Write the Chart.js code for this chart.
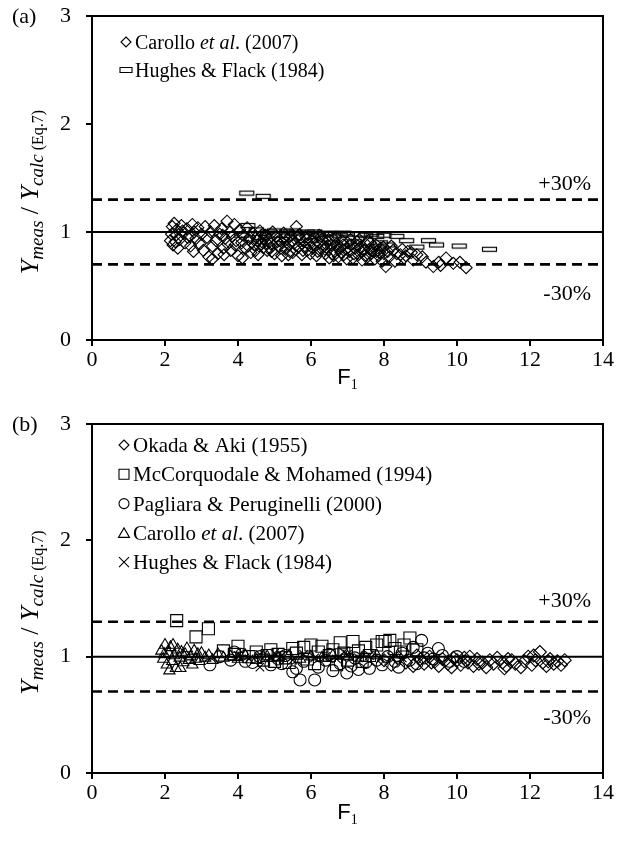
<!DOCTYPE html>
<html>
<head>
<meta charset="utf-8">
<script src="https://cdn.jsdelivr.net/npm/chart.js@4.4.0/dist/chart.umd.min.js"></script>
<style>
  html, body { margin: 0; padding: 0; background: #fff; }
  #wrap { position: relative; width: 635px; height: 843px; }
  canvas { position: absolute; left: 0; }
</style>
</head>
<body>
<div id="wrap">
  <canvas id="chartA" width="635" height="400" style="top:0"></canvas>
  <canvas id="chartB" width="635" height="443" style="top:400px"></canvas>
</div>
<script>
// axis ranges / reference levels
const xMin = 0, xMax = 14, xStep = 2;
const yMin = 0, yMax = 3, yStep = 1;
const refLevels = [1.3, 1.0, 0.7];
const refLabels = ['+30%', '', '-30%'];

// (a) Carollo et al. (2007) - diamonds, [F1, ratio]
const carolloA = [
  [2.15,0.92],[2.2,1.05],[2.22,0.88],[2.25,1.08],[2.3,0.97],[2.32,1.02],[2.35,0.85],[2.4,0.93],[2.45,1.06],[2.5,0.99],
  [2.55,0.9],[2.6,1.03],[2.62,0.95],[2.7,0.87],[2.75,1.07],[2.78,0.82],[2.8,1.0],[2.85,0.94],[2.9,1.04],[2.95,0.89],
  [3.0,0.98],[2.18,0.98],[2.28,0.91],[2.48,1.01],[2.68,0.96],
  [3.05,0.83],[3.1,1.05],[3.15,0.95],[3.2,0.77],[3.25,1.0],[3.3,0.87],[3.35,1.06],[3.4,0.92],[3.45,0.8],[3.5,0.98],
  [3.55,1.03],[3.6,0.85],[3.62,0.79],[3.65,0.94],[3.7,1.1],[3.72,0.89],[3.78,1.0],[3.8,0.83],[3.85,0.96],[3.9,1.07],
  [3.92,0.88],[3.95,0.92],[4.0,0.78],[3.3,0.75],[3.58,0.97],
  [4.05,1.02],[4.1,0.9],[4.12,0.76],[4.15,0.97],[4.2,0.85],[4.25,1.04],[4.3,0.93],[4.35,0.81],[4.4,0.99],[4.45,0.88],
  [4.5,0.95],[4.55,0.79],[4.6,1.01],[4.65,0.91],[4.7,0.86],[4.75,0.97],[4.8,0.83],[4.85,0.94],[4.9,0.89],[4.95,1.0],
  [5.0,0.8],[4.28,0.87],[4.52,0.92],[4.72,0.94],[4.88,0.85],
  [4.32,0.95],[4.48,0.83],[4.58,0.87],[4.68,0.98],[4.78,0.9],[4.92,0.82],
  [5.05,0.96],[5.1,0.87],[5.15,0.92],[5.2,0.78],[5.25,0.99],[5.3,0.84],[5.35,0.93],[5.4,0.88],[5.45,0.97],[5.5,0.81],
  [5.55,0.9],[5.6,1.05],[5.65,0.86],[5.7,0.94],[5.75,0.79],[5.8,0.91],[5.85,0.96],[5.9,0.83],[5.95,0.88],[6.0,0.92],
  [5.22,0.9],[5.42,0.82],[5.62,0.95],[5.82,0.87],[5.98,0.8],
  [5.08,0.91],[5.18,0.85],[5.28,0.95],[5.38,0.79],[5.48,0.92],[5.58,0.84],[5.68,0.98],[5.78,0.83],[5.88,0.93],
  [6.05,0.85],[6.1,0.95],[6.15,0.78],[6.2,0.9],[6.25,0.83],[6.3,0.93],[6.35,0.87],[6.4,0.8],[6.45,0.91],[6.5,0.76],
  [6.55,0.88],[6.6,0.94],[6.65,0.82],[6.7,0.89],[6.75,0.77],[6.8,0.86],[6.85,0.92],[6.9,0.79],[6.95,0.84],[7.0,0.9],
  [6.22,0.97],[6.42,0.86],[6.62,0.78],[6.82,0.81],[6.98,0.75],
  [6.08,0.89],[6.18,0.82],[6.28,0.96],[6.38,0.84],[6.48,0.93],[6.58,0.8],[6.68,0.95],[6.78,0.84],[6.88,0.88],
  [7.05,0.82],[7.1,0.88],[7.15,0.76],[7.2,0.85],[7.25,0.91],[7.3,0.79],[7.35,0.86],[7.4,0.74],[7.45,0.83],[7.5,0.89],
  [7.55,0.77],[7.6,0.84],[7.65,0.8],[7.7,0.87],[7.75,0.75],[7.8,0.82],[7.85,0.78],[7.9,0.85],[7.95,0.73],[8.0,0.8],
  [7.32,0.93],[7.62,0.9],
  [7.08,0.93],[7.18,0.8],[7.28,0.87],[7.38,0.82],[7.48,0.78],[7.58,0.92],[7.68,0.83],[7.78,0.88],[7.88,0.81],[7.98,0.86],
  [8.1,0.82],[8.2,0.87],[8.35,0.8],[8.5,0.84],[8.6,0.78],[8.75,0.81],
  [8.05,0.68],[8.15,0.77],[8.25,0.83],[8.3,0.73],[8.45,0.79],[8.55,0.76],[8.65,0.82],[8.8,0.74],[8.9,0.79],[9.05,0.77],
  [9.15,0.72],[9.35,0.68],[9.5,0.72],[9.55,0.69],[9.7,0.76],[9.9,0.71],[10.08,0.72],[10.25,0.67]
];

// (a) Hughes & Flack (1984) - open bars
const hughesA = [
  [4.24,1.36],[4.69,1.33],[4.27,1.06],[4.5,1.02],[4.8,1.0],[5.0,1.01],[5.33,1.0],[5.6,0.99],[5.9,1.0],[6.2,0.98],
  [6.5,0.99],[6.8,0.97],[7.0,0.98],[7.34,0.98],[7.66,0.98],[8.35,0.96],[8.62,0.92],[9.22,0.92],[9.44,0.88],[10.06,0.87],
  [10.89,0.84],[5.2,0.93],[6.0,0.92],[6.6,0.9],[7.2,0.91],[7.9,0.9],[8.1,0.88],[8.9,0.86],[4.1,0.97],[4.6,0.95],
  [5.45,1.01],[6.1,1.0],[6.4,0.98],[6.9,0.99],[7.5,0.97],[7.8,0.96],[8.0,0.97]
];

// (b) Okada & Aki (1955) - diamonds
const okadaB = [
  [8.0,0.97],[8.2,0.93],[8.4,0.99],[8.6,0.95],[8.8,0.92],[9.0,0.98],[9.1,0.94],[9.25,1.0],[9.4,0.96],[9.5,0.92],
  [9.6,0.98],[9.75,0.94],[9.85,0.91],[10.0,0.97],[10.1,0.93],[10.2,0.99],[10.3,0.95],[10.45,0.92],[10.55,0.98],[10.7,0.95],
  [10.8,0.91],[10.9,0.97],[11.0,0.94],[11.1,0.99],[11.25,0.95],[11.35,0.92],[11.5,0.97],[11.6,0.94],[11.75,0.91],[11.85,0.96],
  [11.95,1.0],[12.05,0.93],[12.15,0.97],[12.27,1.04],[12.35,0.95],[12.45,0.92],[12.55,0.98],[12.65,0.94],[12.75,0.96],[12.85,0.93],
  [12.95,0.97],[10.35,1.0],[9.3,0.95],[11.4,0.98],[12.1,1.01],[8.9,1.01],[9.9,0.99],[10.6,0.94],[11.3,0.9],[12.5,0.96]
];

// (b) McCorquodale & Mohamed (1994) - squares
const mcCorqB = [
  [2.32,1.31],[2.85,1.17],[3.19,1.24],
  [3.6,1.05],[3.9,1.02],[4.0,1.09],[4.3,1.0],[4.5,1.04],[4.7,0.97],[4.9,1.06],[5.1,1.02],[5.3,0.99],[5.5,1.07],[5.6,1.03],
  [5.8,1.08],[5.9,0.98],[6.0,1.1],[6.2,1.04],[6.3,1.09],[6.5,1.01],[6.6,1.06],[6.8,1.12],[6.9,1.03],[7.0,0.97],
  [7.15,1.13],[7.3,1.05],[7.5,1.08],[7.6,1.01],[7.8,1.1],[7.95,1.13],[8.03,1.13],[8.16,1.14],[8.3,1.07],[8.45,1.04],
  [8.55,1.1],[8.71,1.16],[8.9,1.06],[6.1,0.94],[5.4,0.95],[6.7,0.93],[7.4,0.96],[4.8,1.01],[5.0,0.96]
];

// (b) Pagliara & Peruginelli (2000) - circles
const pagliaraB = [
  [3.23,0.93],[3.5,1.0],[3.8,0.97],[4.1,1.02],[4.4,0.95],[4.6,1.0],[4.9,0.93],[5.1,0.98],[5.3,1.01],[5.5,0.87],
  [5.6,0.9],[5.7,0.8],[5.8,0.96],[6.1,0.8],[6.2,0.91],[6.4,0.97],[6.6,0.88],[6.8,0.94],[6.98,0.86],[7.1,0.92],
  [7.3,0.89],[7.5,0.95],[7.6,0.9],[7.8,0.97],[7.95,0.93],[8.1,1.0],[8.3,0.96],[8.5,1.03],[8.7,0.97],[8.8,1.08],
  [9.03,1.14],[9.2,1.03],[9.35,0.98],[9.49,1.07],[9.6,1.01],[9.8,0.96],[10.0,1.0],[10.2,0.96],[8.4,0.91],[8.9,0.94],
  [9.1,0.99],[7.2,0.99],[6.5,1.02],[5.2,0.94],[4.2,0.96],[3.9,1.04]
];

// (b) Carollo et al. (2007) - triangles
const carolloB = [
  [1.9,1.05],[1.95,0.98],[2.0,1.1],[2.05,0.93],[2.1,1.03],[2.15,1.08],[2.2,0.96],[2.25,1.01],[2.3,0.9],[2.35,1.06],
  [2.4,0.99],[2.45,1.04],[2.5,0.95],[2.55,1.02],[2.6,1.07],[2.65,0.97],[2.7,1.0],[2.75,0.93],[2.8,1.05],[2.85,0.98],
  [2.9,1.02],[2.95,0.96],[3.0,1.03],[3.1,0.99],[3.2,1.01],[2.12,0.88],[2.42,0.9],[3.3,0.97],[3.45,1.02],[3.6,0.99],
  [3.8,1.0],[4.0,0.98],[4.2,1.01],[4.5,0.97],[4.8,1.0],[5.1,0.99],[5.4,1.01],[5.7,0.98],[6.0,1.0],[6.3,0.99],
  [6.6,1.01],[7.0,1.0],[7.4,0.99],[7.8,1.01],[2.22,1.1],[1.98,1.02]
];

// (b) Hughes & Flack (1984) - crosses
const hughesB = [
  [4.0,1.01],[4.3,0.98],[4.6,1.02],[4.9,0.99],[5.2,1.01],[5.5,0.97],[5.8,1.02],[6.1,0.99],[6.4,1.0],[6.7,0.98],
  [7.0,1.02],[7.3,0.99],[7.6,1.01],[7.9,0.98],[8.2,1.0],[8.5,0.99],[5.0,1.03],[6.9,1.04],[4.6,0.91]
];

const SERIF = "'Liberation Serif', 'Times New Roman', serif";
const SANS = "'Liberation Sans', Arial, sans-serif";

function toXY(pairs) {
  return pairs.map(p => ({ x: p[0], y: p[1] }));
}

// small open bar used as marker for Hughes & Flack in (a)
function makeBarMarker() {
  const c = document.createElement('canvas');
  c.width = 17; c.height = 7;
  const g = c.getContext('2d');
  g.strokeStyle = '#000';
  g.lineWidth = 1.2;
  g.strokeRect(1.5, 1.5, 14, 4);
  return c;
}

function pointSet(pairs, style, radius) {
  return {
    data: toXY(pairs),
    pointStyle: style,
    pointRadius: radius,
    pointHoverRadius: radius,
    pointBorderColor: '#000',
    pointBackgroundColor: 'rgba(0,0,0,0)',
    pointBorderWidth: 1.1,
    showLine: false
  };
}

function refSets() {
  return refLevels.map(v => ({
    data: [{ x: xMin, y: v }, { x: xMax, y: v }],
    showLine: true,
    pointRadius: 0,
    borderColor: '#000',
    borderWidth: v === 1 ? 2 : 2.6,
    borderDash: v === 1 ? [] : [10, 6]
  }));
}

function drawMarker(ctx, style, x, y) {
  ctx.save();
  ctx.strokeStyle = '#000';
  ctx.lineWidth = 1.1;
  ctx.beginPath();
  if (style === 'diamond') {
    ctx.moveTo(x, y - 5); ctx.lineTo(x + 5, y); ctx.lineTo(x, y + 5); ctx.lineTo(x - 5, y); ctx.closePath();
  } else if (style === 'square') {
    ctx.rect(x - 5, y - 5, 10, 10);
  } else if (style === 'circle') {
    ctx.arc(x, y, 5, 0, Math.PI * 2);
  } else if (style === 'triangle') {
    ctx.moveTo(x, y - 5); ctx.lineTo(x + 5.5, y + 4.5); ctx.lineTo(x - 5.5, y + 4.5); ctx.closePath();
  } else if (style === 'cross') {
    ctx.moveTo(x - 5, y - 5); ctx.lineTo(x + 5, y + 5); ctx.moveTo(x + 5, y - 5); ctx.lineTo(x - 5, y + 5);
  } else if (style === 'bar') {
    ctx.rect(x - 6, y - 2.5, 12, 5);
  }
  ctx.stroke();
  ctx.restore();
}

// parts: [text, font, dy]
function richWidth(ctx, parts) {
  let w = 0;
  parts.forEach(p => { ctx.font = p[1]; w += ctx.measureText(p[0]).width; });
  return w;
}
function drawRich(ctx, parts, x, y) {
  let cx = x;
  parts.forEach(p => {
    ctx.font = p[1];
    ctx.fillText(p[0], cx, y + (p[2] || 0));
    cx += ctx.measureText(p[0]).width;
  });
}

const yTitleParts = [
  ['Y', 'italic 26px ' + SERIF, 0],
  ['meas', 'italic 19px ' + SERIF, 5],
  [' / ', '26px ' + SERIF, 0],
  ['Y', 'italic 26px ' + SERIF, 0],
  ['calc', 'italic 19px ' + SERIF, 5],
  [' (Eq.7)', '16px ' + SERIF, 5]
];
const xTitleParts = [
  ['F', '22px ' + SANS, 0],
  ['1', '14px ' + SERIF, 5]
];

const decorPlugin = {
  id: 'decor',
  beforeDatasetsDraw(chart, args, opts) {
    const { ctx, chartArea: a } = chart;
    ctx.save();
    ctx.strokeStyle = '#000';
    ctx.lineWidth = 2;
    ctx.beginPath();
    ctx.moveTo(a.left, a.top); ctx.lineTo(a.right, a.top); ctx.lineTo(a.right, a.bottom);
    ctx.stroke();
    ctx.restore();
  },
  afterDraw(chart, args, opts) {
    const { ctx, chartArea: a, scales } = chart;
    ctx.save();
    ctx.fillStyle = '#000';
    ctx.textBaseline = 'alphabetic';

    // panel tag
    ctx.font = '22px ' + SERIF;
    ctx.textAlign = 'left';
    ctx.fillText(opts.tag, 12, a.top + 7);

    // percent labels
    ctx.textAlign = 'right';
    ctx.font = '22px ' + SERIF;
    refLevels.forEach((v, i) => {
      if (!refLabels[i]) return;
      const py = scales.y.getPixelForValue(v);
      const ty = v > 1 ? py - opts.pctAbove : py + opts.pctBelow;
      ctx.fillText(refLabels[i], a.right - 12, ty);
    });

    // legend
    ctx.textAlign = 'left';
    opts.legend.forEach((item, i) => {
      const ry = a.top + opts.legendTop + i * opts.legendGap;
      drawMarker(ctx, item.style, opts.legendX, ry);
      drawRich(ctx, item.parts, opts.legendX + 9, ry + 7);
    });

    // x title
    const xw = richWidth(ctx, xTitleParts);
    drawRich(ctx, xTitleParts, (a.left + a.right) / 2 - xw / 2, a.bottom + opts.xTitleGap);

    // y title (rotated)
    const yw = richWidth(ctx, yTitleParts);
    ctx.translate(opts.yTitleX, (a.top + a.bottom) / 2 + opts.yTitleShift);
    ctx.rotate(-Math.PI / 2);
    drawRich(ctx, yTitleParts, -yw / 2, 0);
    ctx.restore();
  }
};

function legendParts(texts, size) {
  return texts.map(t => [t[0], (t[1] ? 'italic ' : '') + size + 'px ' + SERIF, 0]);
}

function buildScales(xAxisHeight) {
  return {
    x: {
      type: 'linear',
      min: xMin, max: xMax,
      afterFit(scale) { scale.height = xAxisHeight; scale.paddingLeft = 0; scale.paddingRight = 0; },
      border: { display: true, color: '#000', width: 2 },
      grid: { display: true, drawOnChartArea: false, drawTicks: true, tickLength: 6, color: '#000', lineWidth: 2 },
      ticks: { stepSize: xStep, color: '#000', font: { family: SERIF, size: 22 }, padding: 1, maxRotation: 0, autoSkip: false }
    },
    y: {
      type: 'linear',
      min: yMin, max: yMax,
      afterFit(scale) { scale.width = 92; scale.paddingTop = 0; scale.paddingBottom = 0; },
      border: { display: true, color: '#000', width: 2 },
      grid: { display: true, drawOnChartArea: false, drawTicks: true, tickLength: 6, color: '#000', lineWidth: 2 },
      ticks: { stepSize: yStep, color: '#000', font: { family: SERIF, size: 22 }, padding: 15 }
    }
  };
}

function baseOptions(padTop, xAxisHeight, decor) {
  return {
    responsive: false,
    animation: false,
    devicePixelRatio: 1,
    layout: { padding: { top: padTop, right: 32, left: 0, bottom: 0 } },
    plugins: { legend: { display: false }, tooltip: { enabled: false }, decor: decor },
    scales: buildScales(xAxisHeight)
  };
}

document.addEventListener('DOMContentLoaded', function () {
  const barMarker = makeBarMarker();

  new Chart(document.getElementById('chartA'), {
    type: 'scatter',
    data: {
      datasets: refSets().concat([
        pointSet(carolloA, 'rectRot', 6),
        pointSet(hughesA, barMarker, 6)
      ])
    },
    options: baseOptions(16, 60, {
      tag: '(a)',
      legendX: 126, legendTop: 26, legendGap: 28,
      legend: [
        { style: 'diamond', parts: legendParts([['Carollo ', false], ['et al', true], ['. (2007)', false]], 20) },
        { style: 'bar', parts: legendParts([['Hughes & Flack (1984)', false]], 20) }
      ],
      pctAbove: 10, pctBelow: 36,
      xTitleGap: 44, yTitleX: 38, yTitleShift: 14
    }),
    plugins: [decorPlugin]
  });

  new Chart(document.getElementById('chartB'), {
    type: 'scatter',
    data: {
      datasets: refSets().concat([
        pointSet(okadaB, 'rectRot', 6.5),
        pointSet(mcCorqB, 'rect', 8.5),
        pointSet(pagliaraB, 'circle', 6),
        pointSet(carolloB, 'triangle', 6.5),
        pointSet(hughesB, 'crossRot', 6)
      ])
    },
    options: baseOptions(24, 70, {
      tag: '(b)',
      legendX: 124, legendTop: 21, legendGap: 29.3,
      legend: [
        { style: 'diamond', parts: legendParts([['Okada & Aki (1955)', false]], 21) },
        { style: 'square', parts: legendParts([['McCorquodale & Mohamed (1994)', false]], 21) },
        { style: 'circle', parts: legendParts([['Pagliara & Peruginelli (2000)', false]], 21) },
        { style: 'triangle', parts: legendParts([['Carollo ', false], ['et al', true], ['. (2007)', false]], 21) },
        { style: 'cross', parts: legendParts([['Hughes & Flack (1984)', false]], 21) }
      ],
      pctAbove: 15, pctBelow: 32,
      xTitleGap: 46, yTitleX: 38, yTitleShift: 14
    }),
    plugins: [decorPlugin]
  });
});
</script>
</body>
</html>
